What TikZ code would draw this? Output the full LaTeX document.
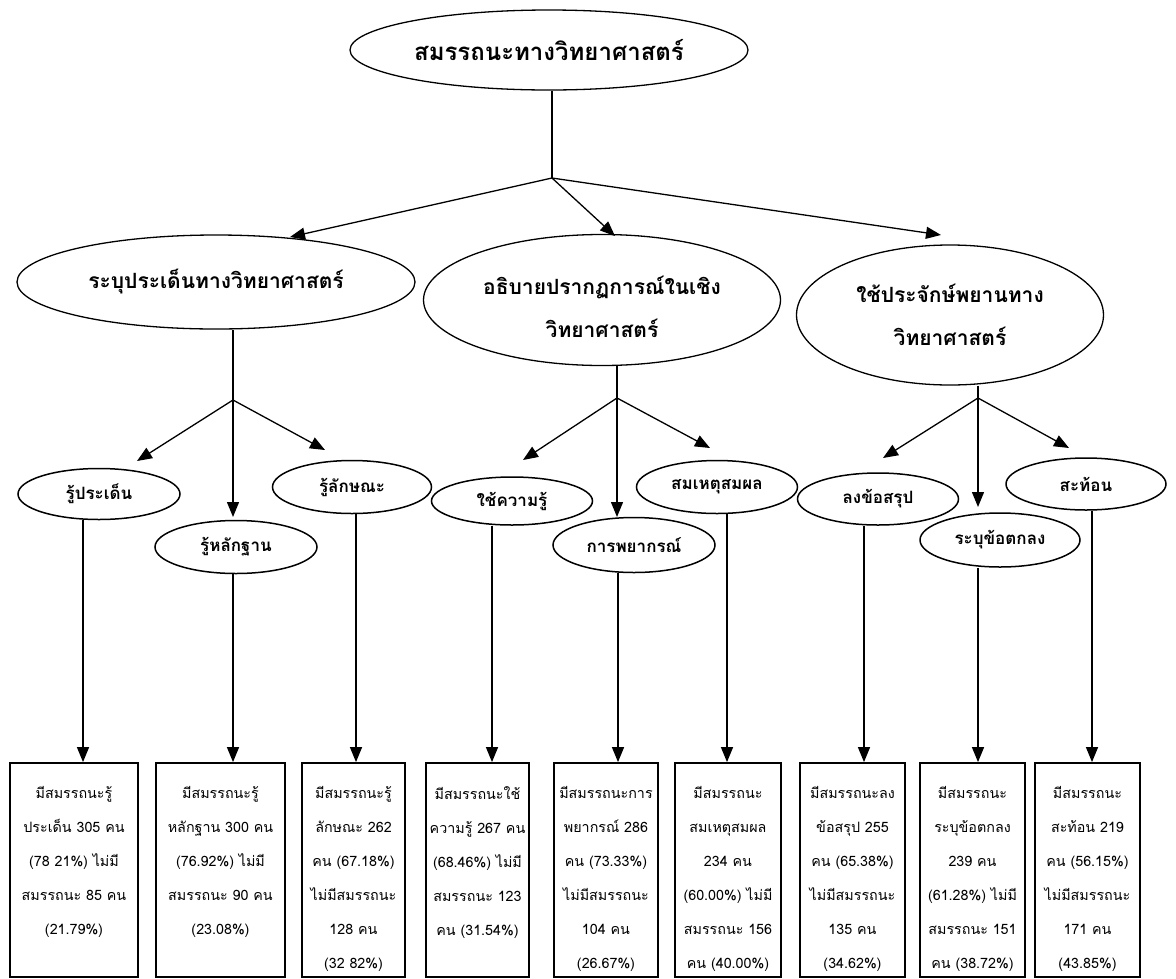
\documentclass[tikz,border=0pt]{standalone}
\usepackage{fontspec}
\newfontfamily\thai[Script=Thai]{Loma}
\usetikzlibrary{arrows.meta,shapes.geometric}
\begin{document}
\begin{tikzpicture}[x=1pt,y=-1pt,
  ovbase/.style={draw,ellipse,inner sep=0pt,align=center,text=black},
  ovbig/.style={ovbase,line width=1.3pt,font=\thai\bfseries\fontsize{21}{43}\selectfont},
  ovsmall/.style={ovbase,line width=1.5pt,font=\thai\bfseries\fontsize{17}{19}\selectfont},
  bigtext/.style={inner sep=0pt,align=center,font=\thai\bfseries\fontsize{21}{43}\selectfont},
  resbox/.style={draw,line width=1.8pt,rectangle,minimum height=214pt,inner sep=0pt},
  restext/.style={anchor=north,inner sep=0pt,align=center,font=\thai\fontsize{14.3}{34}\selectfont},
  ln/.style={line width=1.3pt},
  arr/.style={line width=1.3pt,-{Triangle[width=12pt,length=15pt]}}]
\useasboundingbox[fill=white] (0,0) rectangle (1176,978);

% level 0 and 1
\node[ovbig,font=\thai\bfseries\fontsize{24}{30}\selectfont,minimum width=398pt,minimum height=80pt] (top) at (549,50) {สมรรถนะทางวิทยาศาสตร์};
\node[ovbig,minimum width=398pt,minimum height=94pt] (l1) at (216,282) {ระบุประเด็นทางวิทยาศาสตร์};
\node[ovbig,minimum width=357pt,minimum height=131pt] (m1) at (602,300) {};
\node[bigtext] (m1t) at (602,307) {อธิบายปรากฏการณ์ในเชิง\\วิทยาศาสตร์};
\node[ovbig,minimum width=307pt,minimum height=140pt] (r1) at (950,315) {ใช้ประจักษ์พยานทาง\\วิทยาศาสตร์};

% level 2
\node[ovsmall,minimum width=162pt,minimum height=51pt] (e1) at (99,494) {รู้ประเด็น};
\node[ovsmall,minimum width=162pt,minimum height=53pt] (e2) at (236,547) {รู้หลักฐาน};
\node[ovsmall,minimum width=159pt,minimum height=53pt] (e3) at (352,487) {รู้ลักษณะ};
\node[ovsmall,minimum width=161pt,minimum height=48pt] (e4) at (512,501) {ใช้ความรู้};
\node[ovsmall,minimum width=162pt,minimum height=55pt] (e5) at (634,545) {การพยากรณ์};
\node[ovsmall,minimum width=161pt,minimum height=53pt] (e6) at (717,487) {สมเหตุสมผล};
\node[ovsmall,minimum width=161pt,minimum height=52pt] (e7) at (878,499) {ลงข้อสรุป};
\node[ovsmall,minimum width=160pt,minimum height=54pt] (e8) at (1000,540) {ระบุข้อตกลง};
\node[ovsmall,minimum width=160pt,minimum height=52pt] (e9) at (1086,484) {สะท้อน};

% result boxes
\node[resbox,minimum width=128pt] (b1) at (74,870) {};
\node[resbox,minimum width=129pt] (b2) at (220.5,870) {};
\node[resbox,minimum width=103pt] (b3) at (353.5,870) {};
\node[resbox,minimum width=103pt] (b4) at (477.5,870) {};
\node[resbox,minimum width=104pt] (b5) at (606,870) {};
\node[resbox,minimum width=106pt] (b6) at (728,870) {};
\node[resbox,minimum width=105pt] (b7) at (852.5,870) {};
\node[resbox,minimum width=105pt] (b8) at (972.5,870) {};
\node[resbox,minimum width=105pt] (b9) at (1087.5,870) {};

\node[restext] (x1) at (74,786) {มีสมรรถนะรู้\\ประเด็น 305 คน\\(78 21\%) ไม่มี\\สมรรถนะ 85 คน\\(21.79\%)};
\node[restext] (x2) at (220.5,786) {มีสมรรถนะรู้\\หลักฐาน 300 คน\\(76.92\%) ไม่มี\\สมรรถนะ 90 คน\\(23.08\%)};
\node[restext] (x3) at (353.5,786) {มีสมรรถนะรู้\\ลักษณะ 262\\คน (67.18\%)\\ไม่มีสมรรถนะ\\128 คน\\(32 82\%)};
\node[restext] (x4) at (477.5,786) {มีสมรรถนะใช้\\ความรู้ 267 คน\\(68.46\%) ไม่มี\\สมรรถนะ 123\\คน (31.54\%)};
\node[restext] (x5) at (606,786) {มีสมรรถนะการ\\พยากรณ์ 286\\คน (73.33\%)\\ไม่มีสมรรถนะ\\104 คน\\(26.67\%)};
\node[restext] (x6) at (728,786) {มีสมรรถนะ\\สมเหตุสมผล\\234 คน\\(60.00\%) ไม่มี\\สมรรถนะ 156\\คน (40.00\%)};
\node[restext] (x7) at (852.5,786) {มีสมรรถนะลง\\ข้อสรุป 255\\คน (65.38\%)\\ไม่มีสมรรถนะ\\135 คน\\(34.62\%)};
\node[restext] (x8) at (972.5,786) {มีสมรรถนะ\\ระบุข้อตกลง\\239 คน\\(61.28\%) ไม่มี\\สมรรถนะ 151\\คน (38.72\%)};
\node[restext] (x9) at (1087.5,786) {มีสมรรถนะ\\สะท้อน 219\\คน (56.15\%)\\ไม่มีสมรรถนะ\\171 คน\\(43.85\%)};

% branch points and arrow tips
\coordinate (k0) at (552,178);
\coordinate (k1) at (233,400);
\coordinate (k2) at (617,398);
\coordinate (k3) at (978,398);
\coordinate (t0a) at (290,237);
\coordinate (t0b) at (615,236);
\coordinate (t0c) at (941,235);
\coordinate (t1a) at (137,461);
\coordinate (t1b) at (233,517);
\coordinate (t1c) at (325,450);
\coordinate (t2a) at (523,460);
\coordinate (t2b) at (617,517);
\coordinate (t2c) at (710,448);
\coordinate (t3a) at (883,458);
\coordinate (t3b) at (978,507);
\coordinate (t3c) at (1069,448);

\draw[ln] (top.south -| k0) -- (k0);
\draw[arr] (k0) -- (t0a);
\draw[arr] (k0) -- (t0b);
\draw[arr] (k0) -- (t0c);

\draw[ln] (l1.south -| k1) -- (k1);
\draw[arr] (k1) -- (t1a);
\draw[arr] (k1) -- (t1b);
\draw[arr] (k1) -- (t1c);

\draw[ln] (m1.south -| k2) -- (k2);
\draw[arr] (k2) -- (t2a);
\draw[arr] (k2) -- (t2b);
\draw[arr] (k2) -- (t2c);

\draw[ln] (r1.south -| k3) -- (k3);
\draw[arr] (k3) -- (t3a);
\draw[arr] (k3) -- (t3b);
\draw[arr] (k3) -- (t3c);

% vertical connectors to result boxes
\coordinate (v1) at (83,0);
\coordinate (v2) at (233,0);
\coordinate (v3) at (356,0);
\coordinate (v4) at (492,0);
\coordinate (v5) at (618,0);
\coordinate (v6) at (727,0);
\coordinate (v7) at (864,0);
\coordinate (v8) at (978,0);
\coordinate (v9) at (1092,0);
\draw[arr] (e1.south -| v1) -- (b1.north -| v1);
\draw[arr] (e2.south -| v2) -- (b2.north -| v2);
\draw[arr] (e3.south -| v3) -- (b3.north -| v3);
\draw[arr] (e4.south -| v4) -- (b4.north -| v4);
\draw[arr] (e5.south -| v5) -- (b5.north -| v5);
\draw[arr] (e6.south -| v6) -- (b6.north -| v6);
\draw[arr] (e7.south -| v7) -- (b7.north -| v7);
\draw[arr] (e8.south -| v8) -- (b8.north -| v8);
\draw[arr] (e9.south -| v9) -- (b9.north -| v9);
\end{tikzpicture}
\end{document}
